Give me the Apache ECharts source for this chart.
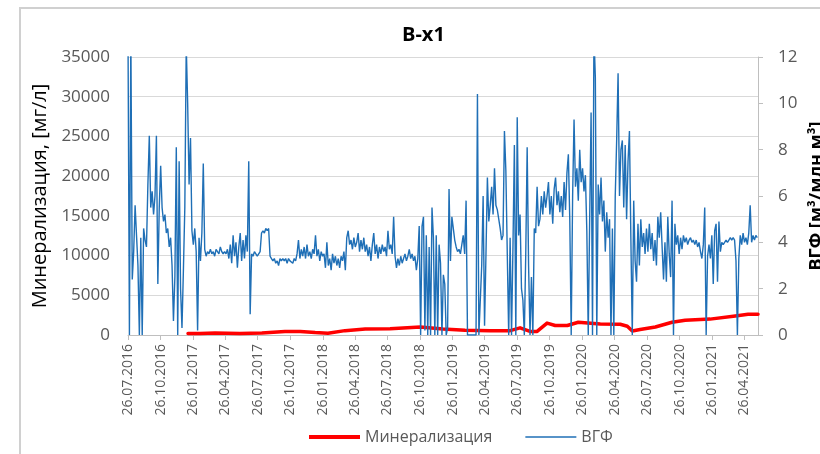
<!DOCTYPE html>
<html>
<head>
<meta charset="utf-8">
<script src="https://cdn.jsdelivr.net/npm/echarts@6/dist/echarts.min.js"></script>
<style>
  html, body { margin: 0; padding: 0; background: #ffffff; }
  #chart { width: 820px; height: 454px; }
</style>
</head>
<body>
<div id="chart"></div>
<script>
// Well B-x1: water mineralization (left axis) and water-gas factor (right axis)
const chartTitle = 'В-х1';
const mineralName = 'Минерализация';
const vgfName = 'ВГФ';
const leftAxisName = 'Минерализация, [мг/л]';
const rightAxisName = 'ВГФ [м³/млн м³]';

// quarterly date ticks on the horizontal axis
const tickDates = [
  '2016-07-26', '2016-10-26', '2017-01-26', '2017-04-26', '2017-07-26',
  '2017-10-26', '2018-01-26', '2018-04-26', '2018-07-26', '2018-10-26',
  '2019-01-26', '2019-04-26', '2019-07-26', '2019-10-26', '2020-01-26',
  '2020-04-26', '2020-07-26', '2020-10-26', '2021-01-26', '2021-04-26'
];
const axisStartDate = '2016-07-26';
const axisEndDate = '2021-06-04';

// mineralization, mg/l
const mineralDates = [
  '2017-01-11', '2017-02-14', '2017-03-28', '2017-06-06', '2017-08-07',
  '2017-10-11', '2017-11-23', '2018-01-04', '2018-02-09', '2018-03-29',
  '2018-05-25', '2018-08-03', '2018-10-27', '2018-12-30', '2019-03-02',
  '2019-05-12', '2019-07-07', '2019-08-04', '2019-09-01', '2019-09-21',
  '2019-10-19', '2019-11-11', '2019-12-15', '2020-01-15', '2020-03-17',
  '2020-05-12', '2020-06-01', '2020-06-15', '2020-07-07', '2020-08-19',
  '2020-10-05', '2020-11-11', '2021-01-20', '2021-04-01', '2021-05-07',
  '2021-06-04'
];
const mineralValues = [
  200, 200, 250, 180, 250,
  450, 450, 300, 220, 550,
  750, 800, 1000, 750, 600,
  550, 550, 900, 450, 450,
  1500, 1200, 1200, 1600, 1400,
  1350, 1100, 500, 700, 1000,
  1600, 1850, 2000, 2400, 2600,
  2600
];

// water-gas factor, one reading every vgfStepDays days from vgfStartDate
const vgfStartDate = '2016-07-26';
const vgfStepDays = 4;
const vgfValues = [
  // 2016-07 .. 2016-10
  13, 0, 13, 2.4, 3.6, 5.6, 4.3, 3.0, 0, 4.2, 0, 4.6, 4.1, 3.8, 6.5, 8.6, 5.5, 6.2, 5.2, 6.0, 8.6, 2.2, 5.5,
  // 2016-10 .. 2017-01
  7.3, 5.5, 4.9, 5.2, 4.4, 4.6, 3.8, 4.2, 3.0, 0.6, 2.5, 8.1, 0, 7.5, 2.0, 0.3, 2.8, 5.5, 12.5, 10.0, 6.5, 8.5, 4.5,
  // 2017-01 .. 2017-04
  3.9, 4.6, 3.6, 0.2, 4.2, 3.2, 4.4, 7.4, 3.7, 3.4, 3.6, 3.5, 3.7, 3.5, 3.6, 3.4, 3.7, 3.6, 3.5, 3.8, 3.6, 3.5, 3.6,
  // 2017-04 .. 2017-07
  3.5, 3.7, 3.3, 3.9, 3.1, 4.3, 3.4, 4.0, 2.9, 3.8, 4.4, 3.2, 4.1, 3.3, 4.3, 3.6, 7.5, 0.9, 3.5, 3.4, 3.6, 3.5, 3.4,
  // 2017-07 .. 2017-10
  3.5, 3.6, 4.4, 4.5, 4.4, 4.6, 4.5, 4.6, 3.4, 3.3, 3.2, 3.3, 3.1, 3.2, 3.0, 3.3, 3.2, 3.3, 3.2, 3.3, 3.1, 3.3, 3.2,
  // 2017-10 .. 2018-01
  3.2, 3.1, 3.3, 3.2, 3.5, 4.1, 3.3, 3.7, 3.4, 3.8, 3.3, 3.9, 3.4, 3.6, 3.3, 3.7, 3.5, 4.3, 3.4, 3.7, 3.2, 3.6, 3.4,
  // 2018-01 .. 2018-04
  3.5, 2.9, 4.0, 3.0, 3.3, 2.8, 3.5, 3.1, 3.4, 3.0, 3.3, 2.9, 3.4, 3.2, 3.6, 2.8, 4.2, 4.5, 3.9, 4.1, 3.7, 4.2,
  // 2018-04 .. 2018-07
  3.8, 4.0, 4.4, 3.6, 4.1, 3.7, 4.2, 3.6, 3.9, 3.4, 3.8, 3.2, 3.9, 4.4, 3.5, 3.9, 3.3, 3.8, 3.5, 3.9, 3.6, 3.8, 3.4,
  // 2018-07 .. 2018-10
  4.5, 3.7, 3.9, 3.5, 5.1, 3.4, 2.9, 3.3, 3.0, 3.4, 3.1, 3.3, 3.5, 3.2, 3.4, 3.7, 3.3, 3.5, 3.2, 3.4, 2.8, 3.3, 4.7,
  // 2018-10 .. 2019-01
  0, 4.7, 5.1, 0.2, 4.3, 0, 3.8, 0, 5.5, 4.2, 0, 4.3, 0, 3.9, 3.1, 0, 2.6, 2.2, 0, 0.3, 6.3, 3.2, 5.1,
  // 2019-01 .. 2019-04
  4.6, 4.1, 3.8, 3.6, 3.7, 3.5, 3.9, 4.3, 3.5, 5.8, 0, 0, 0, 0, 0, 0, 0, 10.4, 0, 0, 3.0, 6.0, 0.4,
  // 2019-04 .. 2019-07
  3.5, 6.8, 4.9, 5.6, 6.4, 5.2, 7.2, 5.6, 5.4, 5.0, 4.6, 4.1, 4.3, 8.8, 7.1, 3.5, 0, 4.2, 0, 3.8, 8.2, 0, 9.4,
  // 2019-07 .. 2019-10
  4.3, 5.2, 2.0, 1.5, 0, 3.5, 8.1, 3.0, 0, 2.5, 0, 4.6, 4.4, 6.4, 4.7, 5.0, 6.0, 5.2, 6.2, 5.5, 6.0, 6.6,
  // 2019-10 .. 2020-01
  5.2, 6.0, 4.8, 6.3, 6.8, 5.6, 6.2, 5.3, 6.0, 5.1, 6.6, 5.4, 7.0, 7.8, 5.0, 0, 6.0, 9.3, 6.4, 7.2, 5.8, 8.0, 6.6,
  // 2020-01 .. 2020-04
  7.2, 6.2, 6.9, 4.5, 0, 5.0, 9.6, 0, 13, 11.1, 0, 6.5, 5.2, 6.8, 4.9, 5.8, 3.6, 5.3, 4.2, 5.0, 0, 4.6, 0,
  // 2020-04 .. 2020-07
  6.0, 8.4, 11.3, 6.0, 8.0, 8.4, 5.5, 8.2, 5.0, 7.5, 8.8, 4.2, 0, 5.8, 3.2, 2.3, 4.8, 3.0, 5.0, 3.8, 4.4, 3.5, 4.6,
  // 2020-07 .. 2020-10
  3.6, 4.8, 3.7, 4.4, 3.2, 4.1, 3.0, 5.1, 4.2, 5.3, 3.8, 2.4, 4.0, 2.3, 5.1, 3.5, 2.5, 5.8, 0, 4.8, 3.9, 4.3, 3.5,
  // 2020-10 .. 2021-01
  4.2, 3.7, 4.3, 4.0, 4.2, 3.9, 4.1, 4.2, 4.0, 4.1, 3.9, 4.1, 3.8, 4.0, 3.6, 3.3, 3.9, 5.5, 0, 3.4, 3.9, 3.3, 4.3,
  // 2021-01 .. 2021-04
  2.2, 4.5, 4.8, 2.3, 4.9, 3.6, 4.0, 3.9, 4.0, 4.1, 4.0, 4.1, 4.2, 4.1, 4.2, 4.1, 3.2, 0, 3.3, 4.3, 3.9, 4.4,
  // 2021-04 .. 2021-06
  4.0, 4.2, 3.9, 4.4, 5.6, 4.0, 4.3, 4.1, 4.3, 4.2
];

const DAY_MS = 86400000;
function toTime(s) {
  const [y, m, d] = s.split('-').map(Number);
  return Date.UTC(y, m - 1, d);
}
function formatDate(t) {
  const d = new Date(t);
  const p = n => String(n).padStart(2, '0');
  return p(d.getUTCDate()) + '.' + p(d.getUTCMonth() + 1) + '.' + d.getUTCFullYear();
}

const tickTimes = tickDates.map(toTime);
const mineralData = mineralDates.map((d, i) => [toTime(d), mineralValues[i]]);
const vgfStart = toTime(vgfStartDate);
const vgfData = vgfValues.map((v, i) => [vgfStart + i * vgfStepDays * DAY_MS, v]);

const FONT = 'Open Sans';
const GREY_TEXT = '#595959';
const AXIS_GREY = '#bfbfbf';
const GRID_GREY = '#d9d9d9';
const RED = '#ff0000';
const BLUE = '#1f6fb6';

// legend keys: plain line segments of different thickness inside a 51x14 box
const redKey = 'path://M0,0M51,14M0,5L51,5L51,9L0,9Z';
const blueKey = 'path://M0,0M51,14M0,6.3L51,6.3L51,7.7L0,7.7Z';

const chart = echarts.init(document.getElementById('chart'), null, { renderer: 'canvas' });

chart.setOption({
  animation: false,
  backgroundColor: '#ffffff',
  textStyle: { fontFamily: FONT },
  graphic: [{
    type: 'rect',
    shape: { x: 20, y: 8, width: 900, height: 500 },
    style: { fill: 'none', stroke: '#d0d0d0', lineWidth: 2 },
    silent: true,
    z: -10
  }],
  title: {
    text: chartTitle,
    left: 397,
    top: 20,
    textStyle: { fontFamily: FONT, fontSize: 20, fontWeight: 'bold', color: '#000000' }
  },
  legend: {
    left: 309,
    top: 429,
    padding: 0,
    itemWidth: 51,
    itemHeight: 14,
    itemGap: 33,
    data: [
      { name: mineralName, icon: redKey, itemStyle: { color: RED } },
      { name: vgfName, icon: blueKey, itemStyle: { color: BLUE } }
    ],
    textStyle: { fontFamily: FONT, fontSize: 16, color: GREY_TEXT }
  },
  grid: { left: 128, right: 62, top: 57, bottom: 119, containLabel: false, outerBoundsMode: 'none' },
  xAxis: {
    // dates as UTC milliseconds on a linear scale
    type: 'value',
    min: toTime(axisStartDate),
    max: toTime(axisEndDate),
    axisLine: { show: true, onZero: false, lineStyle: { color: AXIS_GREY, width: 1 } },
    axisTick: { show: true, inside: false, length: 5, customValues: tickTimes, lineStyle: { color: AXIS_GREY } },
    axisLabel: {
      customValues: tickTimes,
      formatter: v => formatDate(v),
      rotate: 90,
      margin: 9,
      fontFamily: FONT,
      fontSize: 14,
      color: GREY_TEXT,
      hideOverlap: false,
      showMinLabel: true,
      showMaxLabel: true
    },
    splitLine: { show: false }
  },
  yAxis: [{
    type: 'value',
    min: 0,
    max: 35000,
    interval: 5000,
    position: 'left',
    name: leftAxisName,
    nameLocation: 'middle',
    nameRotate: 90,
    nameGap: 65,
    nameTextStyle: { fontFamily: FONT, fontSize: 20, color: '#000000' },
    axisLine: { show: false },
    axisTick: { show: false },
    axisLabel: { margin: 18, fontFamily: FONT, fontSize: 17, color: GREY_TEXT, formatter: v => String(v) },
    splitLine: { show: true, lineStyle: { color: GRID_GREY, width: 1 } }
  }, {
    type: 'value',
    min: 0,
    max: 12,
    interval: 2,
    position: 'right',
    name: rightAxisName,
    nameLocation: 'middle',
    nameRotate: 90,
    nameGap: 44,
    nameTextStyle: { fontFamily: FONT, fontSize: 18, fontWeight: 'bold', color: '#000000' },
    axisLine: { show: true, lineStyle: { color: AXIS_GREY, width: 1 } },
    axisTick: { show: true, inside: false, length: 5, lineStyle: { color: AXIS_GREY } },
    axisLabel: { margin: 20, fontFamily: FONT, fontSize: 17, color: GREY_TEXT },
    splitLine: { show: false }
  }],
  series: [{
    name: mineralName,
    type: 'line',
    yAxisIndex: 0,
    data: mineralData,
    symbol: 'none',
    showSymbol: false,
    clip: true,
    lineStyle: { color: RED, width: 3.5, cap: 'round', join: 'round' },
    itemStyle: { color: RED },
    z: 2
  }, {
    name: vgfName,
    type: 'line',
    yAxisIndex: 1,
    data: vgfData,
    symbol: 'none',
    showSymbol: false,
    clip: true,
    lineStyle: { color: BLUE, width: 1.4 },
    itemStyle: { color: BLUE },
    z: 3
  }]
});
</script>
</body>
</html>
